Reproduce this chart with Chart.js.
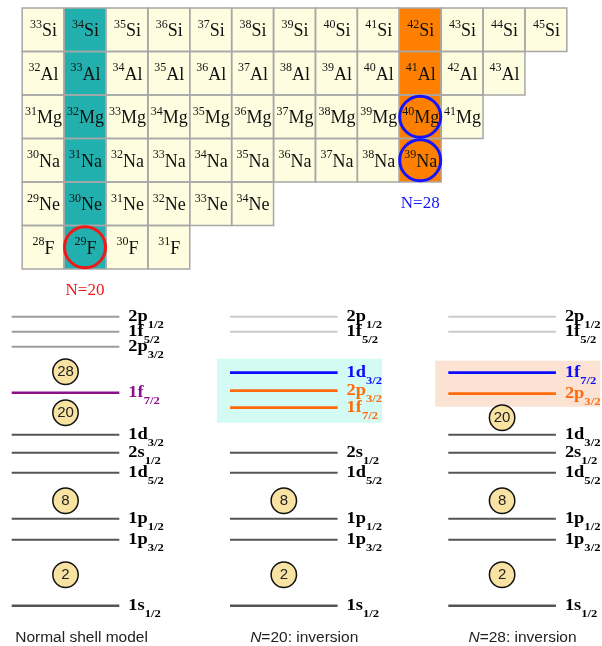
<!DOCTYPE html>
<html>
<head>
<meta charset="utf-8">
<title>Island of inversion: N=20 and N=28</title>
<script src="https://cdn.jsdelivr.net/npm/chart.js@4/dist/chart.umd.min.js"></script>
<style>
  html, body { margin: 0; padding: 0; background: #ffffff; }
  #wrap { width: 602px; height: 646px; }
  canvas { display: block; }
</style>
</head>
<body>
<div id="wrap"><canvas id="chart" width="602" height="646"></canvas></div>
<script>
// ---- Nuclide chart section: one row per element, mass numbers shown in each row ----
const elementSymbols = ['F', 'Ne', 'Na', 'Mg', 'Al', 'Si'];
const protonNumbers  = [9, 10, 11, 12, 13, 14];
const massF  = [28, 29, 30, 31];
const massNe = [29, 30, 31, 32, 33, 34];
const massNa = [30, 31, 32, 33, 34, 35, 36, 37, 38, 39];
const massMg = [31, 32, 33, 34, 35, 36, 37, 38, 39, 40, 41];
const massAl = [32, 33, 34, 35, 36, 37, 38, 39, 40, 41, 42, 43];
const massSi = [33, 34, 35, 36, 37, 38, 39, 40, 41, 42, 43, 44, 45];
const massByElement = [massF, massNe, massNa, massMg, massAl, massSi];

// Magic neutron numbers highlighted as columns, with their labels
const magicNeutrons = [20, 28];
const magicLabels   = ['N=20', 'N=28'];

// Nuclei singled out with a ring
const ringedSymbols = ['F', 'Mg', 'Na'];
const ringedMasses  = [29, 40, 39];

// ---- Neutron single-particle levels (arbitrary energy units) ----
const orbitalNames = ['1s', '1p', '1p', '1d', '2s', '1d', '1f', '2p', '1f', '2p'];
const orbitalJ     = ['1/2', '3/2', '1/2', '5/2', '1/2', '3/2', '7/2', '3/2', '5/2', '1/2'];
const energyNormal = [0, 6.6, 8.7, 13.3, 15.3, 17.1, 21.3, 25.9, 27.4, 28.9];
const energyN20    = [0, 6.6, 8.7, 13.3, 15.3, 23.3, 19.8, 21.5, 27.4, 28.9];
const energyN28    = [0, 6.6, 8.7, 13.3, 15.3, 17.1, 23.3, 21.2, 27.4, 28.9];
const panelEnergies = [energyNormal, energyN20, energyN28];
const panelCaptions = ['Normal shell model', 'N=20: inversion', 'N=28: inversion'];

// Shell-closure numbers and where they sit in each panel
const gapNumbersNormal = [2, 8, 20, 28];
const gapEnergyNormal  = [3.1, 10.5, 19.3, 23.4];
const gapNumbersN20    = [2, 8];
const gapEnergyN20     = [3.1, 10.5];
const gapNumbersN28    = [2, 8, 20];
const gapEnergyN28     = [3.1, 10.5, 18.8];
const panelGapNumbers = [gapNumbersNormal, gapNumbersN20, gapNumbersN28];
const panelGapEnergy  = [gapEnergyNormal, gapEnergyN20, gapEnergyN28];

// Energy window of the inverted orbitals (none in the normal panel)
const inversionLow  = [null, 18.3, 19.9];
const inversionHigh = [null, 24.7, 24.5];

// ---- Styling (kept apart from the values) ----
const SERIF = '"Liberation Serif", "Times New Roman", serif';
const SANS = '"Liberation Sans", Arial, Helvetica, sans-serif';
const colors = {
  cell: '#fefddf', cellEdge: '#a7a7a7', text: '#111111',
  magic: ['#21b0ad', '#ff8000'],
  magicInk: ['#f01818', '#1414ff'],
  core: '#555555', upper: '#9c9c9c', faint: '#cbcbcb',
  purple: '#8c0f8c', blue: '#0b0bff', orange: '#ff6a0a',
  box: [null, '#d3fbf4', '#fce2d2'],
  badgeFill: '#f9e3a2', badgeEdge: '#111111'
};
// line style role per orbital, per panel
const panelRoles = [
  ['core', 'core', 'core', 'core', 'core', 'core', 'purple', 'upper', 'upper', 'upper'],
  ['core', 'core', 'core', 'core', 'core', 'blue', 'orange', 'orange', 'faint', 'faint'],
  ['core', 'core', 'core', 'core', 'core', 'core', 'blue', 'orange', 'faint', 'faint']
];
const LINE_LEN = 0.493;          // level line length in panel units
const captionShift = [0.32, 0.34, 0.34];
const LABEL_STRETCH = 1.15;      // orbital labels are set slightly wide
const SUB_STRETCH = 1.2;

function roleColor(role) { return colors[role]; }
function labelColor(role) {
  return (role === 'core' || role === 'upper' || role === 'faint') ? '#000000' : colors[role];
}
function roleWidth(role, i) {
  if (role === 'blue' || role === 'orange') return 2.8;
  if (role === 'purple') return 2.4;
  return i === 0 ? 2.5 : 2;
}
// draw text widened horizontally; returns drawn width
function wideText(ctx, text, x, y, stretch) {
  const w = ctx.measureText(text).width * stretch;
  ctx.save();
  ctx.translate(x, y);
  ctx.scale(stretch, 1);
  ctx.fillText(text, 0, 0);
  ctx.restore();
  return w;
}

// ---- Datasets ----
const datasets = [];

// level lines
panelEnergies.forEach((energies, p) => {
  energies.forEach((e, i) => {
    const role = panelRoles[p][i];
    datasets.push({
      type: 'line',
      xAxisID: 'xP', yAxisID: 'yE',
      data: [{ x: p, y: e }, { x: p + LINE_LEN, y: e }],
      borderColor: roleColor(role),
      borderWidth: roleWidth(role, i),
      pointRadius: 0,
      fill: false,
      tension: 0,
      order: 2
    });
  });
});

// shell-closure badges
panelGapNumbers.forEach((nums, p) => {
  datasets.push({
    type: 'scatter',
    xAxisID: 'xP', yAxisID: 'yE',
    data: nums.map((n, k) => ({ x: p + LINE_LEN / 2, y: panelGapEnergy[p][k], n })),
    pointStyle: 'circle',
    pointRadius: 12.7,
    pointBackgroundColor: colors.badgeFill,
    pointBorderColor: colors.badgeEdge,
    pointBorderWidth: 1.5,
    order: 1
  });
});

// rings on the nuclide chart
datasets.push({
  type: 'scatter',
  xAxisID: 'x', yAxisID: 'y',
  data: ringedSymbols.map((s, k) => {
    const Z = protonNumbers[elementSymbols.indexOf(s)];
    return { x: ringedMasses[k] - Z, y: Z };
  }),
  pointStyle: 'circle',
  pointRadius: 20.5,
  pointBackgroundColor: 'rgba(0,0,0,0)',
  pointBorderColor: ringedSymbols.map((s, k) => {
    const Z = protonNumbers[elementSymbols.indexOf(s)];
    return colors.magicInk[magicNeutrons.indexOf(ringedMasses[k] - Z)];
  }),
  pointBorderWidth: 3,
  order: 0
});

// ---- Custom drawing of cells, boxes and labels, placed through the scales ----
const shellArt = {
  id: 'shellArt',
  beforeDatasetsDraw(chart) {
    const ctx = chart.ctx;
    const sx = chart.scales.x, sy = chart.scales.y;
    const sp = chart.scales.xP, se = chart.scales.yE;
    ctx.save();

    // inversion windows
    for (let p = 0; p < panelEnergies.length; p++) {
      if (inversionLow[p] == null) continue;
      const l = sp.getPixelForValue(p) - 13;
      const r = Math.min(sp.getPixelForValue(p) + 152, chart.chartArea.right);
      const t = se.getPixelForValue(inversionHigh[p]);
      const b = se.getPixelForValue(inversionLow[p]);
      ctx.fillStyle = colors.box[p];
      ctx.fillRect(l, t, r - l, b - t);
    }

    // nuclide cells: fill, then edges, then text
    const cells = [];
    elementSymbols.forEach((sym, k) => {
      const Z = protonNumbers[k];
      massByElement[k].forEach(A => {
        const N = A - Z;
        const x0 = sx.getPixelForValue(N - 0.5), x1 = sx.getPixelForValue(N + 0.5);
        const y0 = sy.getPixelForValue(Z + 0.5), y1 = sy.getPixelForValue(Z - 0.5);
        cells.push({ sym, A, N, x0, x1, y0, y1 });
      });
    });
    cells.forEach(c => {
      const m = magicNeutrons.indexOf(c.N);
      ctx.fillStyle = m >= 0 ? colors.magic[m] : colors.cell;
      ctx.fillRect(c.x0, c.y0, c.x1 - c.x0, c.y1 - c.y0);
    });
    ctx.strokeStyle = colors.cellEdge;
    ctx.lineWidth = 1.5;
    cells.forEach(c => ctx.strokeRect(c.x0, c.y0, c.x1 - c.x0, c.y1 - c.y0));

    ctx.fillStyle = colors.text;
    ctx.textBaseline = 'alphabetic';
    ctx.textAlign = 'left';
    cells.forEach(c => {
      const cx = (c.x0 + c.x1) / 2, cy = (c.y0 + c.y1) / 2;
      ctx.font = '12px ' + SERIF;
      const wA = ctx.measureText(String(c.A)).width;
      ctx.font = '18px ' + SERIF;
      const wS = ctx.measureText(c.sym).width;
      const start = cx - (wA + wS) / 2 + 0.5;
      ctx.font = '12px ' + SERIF;
      ctx.fillText(String(c.A), start, cy - 2);
      ctx.font = '18px ' + SERIF;
      ctx.fillText(c.sym, start + wA, cy + 6.5);
    });

    // magic-number column labels, one row below the lowest nuclide of the column
    ctx.font = '17px ' + SERIF;
    ctx.textAlign = 'center';
    ctx.textBaseline = 'middle';
    magicNeutrons.forEach((N, m) => {
      let lowestZ = Infinity;
      elementSymbols.forEach((s, k) => {
        if (massByElement[k].includes(N + protonNumbers[k])) lowestZ = Math.min(lowestZ, protonNumbers[k]);
      });
      ctx.fillStyle = colors.magicInk[m];
      ctx.fillText(magicLabels[m], sx.getPixelForValue(N), sy.getPixelForValue(lowestZ - 1) - 0.5);
    });
    ctx.restore();
  },

  afterDatasetsDraw(chart) {
    const ctx = chart.ctx;
    const sp = chart.scales.xP, se = chart.scales.yE;
    ctx.save();

    // orbital labels
    ctx.textAlign = 'left';
    ctx.textBaseline = 'alphabetic';
    panelEnergies.forEach((energies, p) => {
      const xl = sp.getPixelForValue(p + LINE_LEN) + 9;
      energies.forEach((e, i) => {
        const y = se.getPixelForValue(e);
        const role = panelRoles[p][i];
        ctx.fillStyle = labelColor(role);
        ctx.font = 'bold 16px ' + SERIF;
        const w = wideText(ctx, orbitalNames[i], xl, y + 4.5, LABEL_STRETCH);
        ctx.font = 'bold 10.5px ' + SERIF;
        wideText(ctx, orbitalJ[i], xl + w, y + 11.5, SUB_STRETCH);
      });
    });

    // numbers inside the shell-closure badges
    ctx.font = '15px ' + SANS;
    ctx.fillStyle = '#222222';
    ctx.textAlign = 'center';
    ctx.textBaseline = 'middle';
    panelGapNumbers.forEach((nums, p) => {
      nums.forEach((n, k) => {
        ctx.fillText(String(n), sp.getPixelForValue(p + LINE_LEN / 2), se.getPixelForValue(panelGapEnergy[p][k]) + 0.5);
      });
    });

    // panel captions (leading N set in italics)
    ctx.textBaseline = 'alphabetic';
    ctx.textAlign = 'left';
    ctx.fillStyle = '#222222';
    const yCap = se.getPixelForValue(se.min) - 4;
    panelCaptions.forEach((cap, p) => {
      const cx = sp.getPixelForValue(p + captionShift[p]);
      let head = '', rest = cap;
      if (cap.startsWith('N=')) { head = 'N'; rest = cap.slice(1); }
      ctx.font = 'italic 15.5px ' + SANS;
      const wh = head ? ctx.measureText(head).width : 0;
      ctx.font = '15.5px ' + SANS;
      const wr = ctx.measureText(rest).width;
      const x0 = cx - (wh + wr) / 2;
      if (head) {
        ctx.font = 'italic 15.5px ' + SANS;
        ctx.fillText(head, x0, yCap);
      }
      ctx.font = '15.5px ' + SANS;
      ctx.fillText(rest, x0 + wh, yCap);
    });
    ctx.restore();
  }
};

// ---- Chart ----
new Chart(document.getElementById('chart'), {
  type: 'scatter',
  data: { datasets },
  options: {
    responsive: false,
    animation: false,
    events: [],
    layout: { padding: 0, autoPadding: false },
    plugins: { legend: { display: false }, tooltip: { enabled: false }, title: { display: false } },
    scales: {
      // neutron number across the nuclide chart
      x:  { type: 'linear', axis: 'x', display: false, bounds: 'data', min: 17.971, max: 32.339 },
      // proton number
      y:  { type: 'linear', axis: 'y', display: false, bounds: 'data', min: -0.167, max: 14.684 },
      // panel position for the level schemes
      xP: { type: 'linear', axis: 'x', display: false, bounds: 'data', min: -0.0536, max: 2.7041 },
      // single-particle energy
      yE: { type: 'linear', axis: 'y', display: false, bounds: 'data', min: -4.03, max: 60.57 }
    }
  },
  plugins: [shellArt]
});
</script>
</body>
</html>
